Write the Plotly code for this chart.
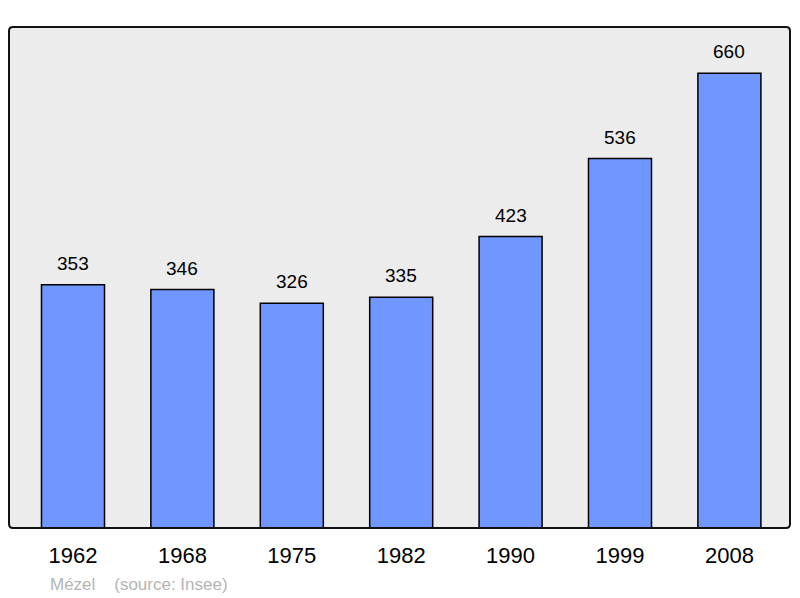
import plotly.graph_objects as go

years = ["1962", "1968", "1975", "1982", "1990", "1999", "2008"]
population = [353, 346, 326, 335, 423, 536, 660]
place = "Mézel"
source = "(source: Insee)"

fig = go.Figure()
fig.add_trace(go.Bar(
    x=list(range(len(years))), y=population,
    width=0.576,
    marker=dict(color="#7097ff", line=dict(color="#000000", width=1.5)),
    hoverinfo="skip",
))

# value labels above each bar
for i, v in enumerate(population):
    fig.add_annotation(x=i, y=v, text=str(v), showarrow=False,
                       yanchor="bottom", yshift=9,
                       font=dict(family="Liberation Sans", size=19, color="#000000"))

# source note under the axis
fig.add_annotation(x=(48 - 9) / 781, y=-(584 - 528) / 501, xref="paper", yref="paper",
                   text=place + "&nbsp;&nbsp;&nbsp;&nbsp;" + source,
                   showarrow=False, xanchor="left", yanchor="middle",
                   font=dict(family="Liberation Sans", size=17, color="#b4b4b4"))

# rounded frame around the plot area
rx, ry = 4 / 781, 4 / 501
frame = (f"M {rx} 0 L {1-rx} 0 Q 1 0 1 {ry} L 1 {1-ry} Q 1 1 {1-rx} 1 "
         f"L {rx} 1 Q 0 1 0 {1-ry} L 0 {ry} Q 0 0 {rx} 0 Z")
fig.add_shape(type="path", path=frame, xref="paper", yref="paper",
              line=dict(color="#111111", width=2), layer="above")

fig.update_layout(
    width=800, height=598,
    margin=dict(l=9, r=10, t=27, b=70),
    paper_bgcolor="#ffffff", plot_bgcolor="#ececec",
    showlegend=False,
    font=dict(family="Liberation Sans", color="#000000"),
    xaxis=dict(tickmode="array", tickvals=list(range(len(years))), ticktext=years,
               range=[-0.585, 6.554], showgrid=False, zeroline=False,
               ticks="outside", ticklen=8, tickcolor="rgba(0,0,0,0)",
               tickfont=dict(size=22, color="#000000")),
    yaxis=dict(range=[0, 727], showgrid=False, zeroline=False,
               showticklabels=False, ticks=""),
)

fig.write_html("out.html", config={"displayModeBar": False},
               post_script="document.body.style.margin='0';")
